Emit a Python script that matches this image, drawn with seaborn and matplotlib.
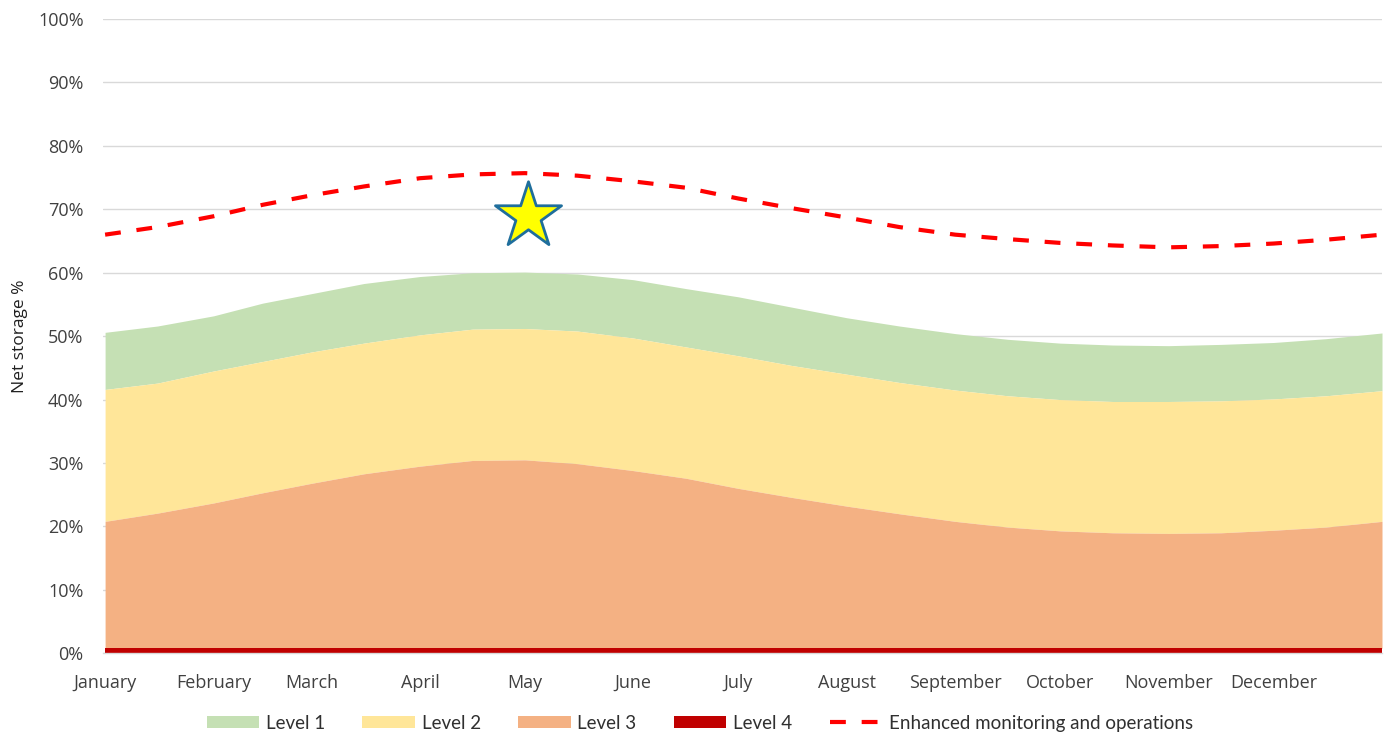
import numpy as np
import pandas as pd
import matplotlib
matplotlib.use("Agg")
import matplotlib.pyplot as plt
from matplotlib.patches import Patch
from matplotlib.lines import Line2D
import seaborn as sns

# ---- data (day of year, % net storage) ----
days = [0, 15, 31, 45, 59, 74, 90, 105, 120, 135, 151, 166, 181, 196, 212,
        227, 243, 258, 273, 288, 304, 319, 334, 349, 365]
level1_top = [50.6, 51.6, 53.2, 55.2, 56.7, 58.3, 59.4, 60.0, 60.1, 59.8, 58.9, 57.5,
              56.2, 54.6, 52.9, 51.6, 50.4, 49.5, 48.9, 48.6, 48.5, 48.7, 49.0, 49.6, 50.5]
level2_top = [41.6, 42.6, 44.5, 46.0, 47.5, 48.9, 50.2, 51.1, 51.2, 50.8, 49.7, 48.3,
              46.9, 45.4, 44.0, 42.7, 41.5, 40.6, 40.0, 39.7, 39.7, 39.8, 40.1, 40.6, 41.4]
level3_top = [20.8, 22.1, 23.7, 25.3, 26.8, 28.3, 29.5, 30.4, 30.5, 29.9, 28.8, 27.6,
              26.0, 24.6, 23.2, 22.0, 20.8, 19.9, 19.3, 19.0, 18.9, 19.0, 19.4, 19.9, 20.8]
level4_top = [0.8] * 25
enhanced = [66.0, 67.2, 68.9, 70.7, 72.2, 73.6, 74.9, 75.5, 75.7, 75.3, 74.4, 73.4,
            71.7, 70.2, 68.7, 67.2, 66.0, 65.3, 64.7, 64.3, 64.0, 64.2, 64.6, 65.2, 66.0]
star_day = [121]
star_value = [68.9]

month_labels = ["January", "February", "March", "April", "May", "June", "July",
                "August", "September", "October", "November", "December"]
month_start_days = [0, 31, 59, 90, 120, 151, 181, 212, 243, 273, 304, 334]
y_ticks = list(range(0, 101, 10))

series_labels = ["Level 1", "Level 2", "Level 3", "Level 4",
                 "Enhanced monitoring and operations"]

# ---- styling ----
sns.set_theme(style="white")
plt.rcParams["font.family"] = ["Open Sans", "DejaVu Sans"]

c_l1 = "#C5E0B4"
c_l2 = "#FFE699"
c_l3 = "#F4B183"
c_l4 = "#C00000"
c_dash = "#FF0000"

fig = plt.figure(figsize=(13.91, 7.35), dpi=100)
ax = fig.add_axes([103 / 1391, 1 - 653.3 / 735, (1382 - 103) / 1391, (653.3 - 19) / 735])

df = pd.DataFrame({"day": days, "l1": level1_top, "l2": level2_top,
                   "l3": level3_top, "l4": level4_top, "enh": enhanced})

ax.fill_between(df["day"], df["l2"], df["l1"], color=c_l1, linewidth=0, zorder=2)
ax.fill_between(df["day"], df["l3"], df["l2"], color=c_l2, linewidth=0, zorder=2)
ax.fill_between(df["day"], df["l4"], df["l3"], color=c_l3, linewidth=0, zorder=2)
ax.fill_between(df["day"], 0, df["l4"], color=c_l4, linewidth=0, zorder=2)

sns.lineplot(data=df, x="day", y="enh", ax=ax, color=c_dash, linewidth=3.0,
             zorder=4, legend=False)
ax.lines[-1].set_linestyle((0, (3.8, 3.8)))

sns.scatterplot(x=star_day, y=star_value, ax=ax, marker="*", s=2500,
                color="#FFFF00", edgecolor="#1F6E9C", linewidth=2.0, zorder=5,
                legend=False)

ax.set_xlim(-0.6, 365)
ax.set_ylim(0, 100)
ax.set_yticks(y_ticks)
ax.set_yticklabels([f"{v}%" for v in y_ticks])
ax.set_xticks(month_start_days)
ax.set_xticklabels(month_labels)
ax.tick_params(axis="both", length=0, labelsize=13, colors="#404040")
ax.tick_params(axis="x", pad=15)
ax.tick_params(axis="y", pad=14)
ax.yaxis.grid(True, color="#D9D9D9", linewidth=1.0, zorder=0)
ax.set_axisbelow(True)
for s in ["top", "right", "left"]:
    ax.spines[s].set_visible(False)
ax.spines["bottom"].set_color("#D9D9D9")
ax.spines["bottom"].set_linewidth(1.0)
ax.set_xlabel("")
ax.set_ylabel("Net storage %", fontsize=12.5, color="#202020")
ax.yaxis.set_label_coords(-0.0585, 0.5)

handles = [Patch(facecolor=c_l1, edgecolor="none"),
           Patch(facecolor=c_l2, edgecolor="none"),
           Patch(facecolor=c_l3, edgecolor="none"),
           Patch(facecolor=c_l4, edgecolor="none"),
           Line2D([0], [0], color=c_dash, linewidth=3.0, linestyle=(0, (3.8, 3.8)))]
fig.legend(handles, series_labels, loc="center", bbox_to_anchor=(0.503, 0.016),
           ncol=5, frameon=False, handlelength=2.8, handleheight=0.65,
           handletextpad=0.35, columnspacing=2.0, labelcolor="#303030",
           prop={"family": ["Lato", "DejaVu Sans"], "size": 13.5})

fig.savefig("out.png", dpi=100)
